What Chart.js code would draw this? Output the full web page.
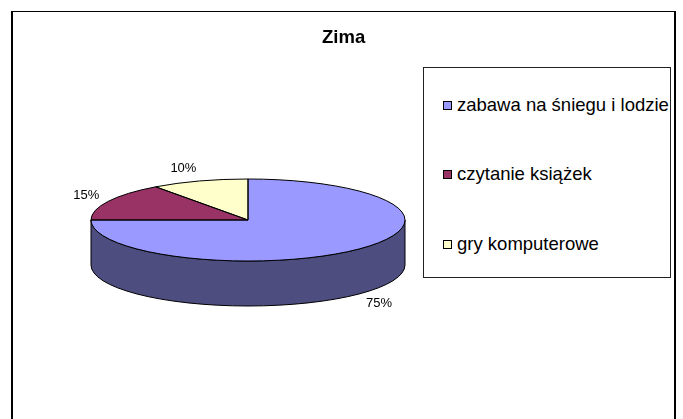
<!DOCTYPE html>
<html>
<head>
<meta charset="utf-8">
<script src="https://cdn.jsdelivr.net/npm/chart.js@4"></script>
<style>
  body { margin: 0; background: #fff; font-family: Arial, "Liberation Sans", sans-serif; }
  #wrap { position: relative; width: 683px; height: 419px; overflow: hidden; }
  #frame { position: absolute; left: 11px; top: 11px; width: 661px; height: 420px;
           border-style: solid; border-color: #000; border-width: 1px 2px; }
  #chart { position: absolute; left: 0; top: 0; }
  #title { position: absolute; left: 322px; top: 26px; font-weight: bold; font-size: 18.5px; line-height: 22px; color: #000; }
  #legend { position: absolute; left: 423px; top: 67px; width: 246px; height: 209px;
            border: 1px solid #222; overflow: hidden; background: #fff; }
  .item { position: absolute; left: 19px; white-space: nowrap; font-size: 18.5px; line-height: 22px; color: #000; }
  .box { display: inline-block; width: 7px; height: 7px; border: 1px solid #000; margin-right: 5px; vertical-align: 1px; }
</style>
</head>
<body>
<div id="wrap">
  <div id="frame"></div>
  <canvas id="chart" width="683" height="419"></canvas>
  <div id="title">Zima</div>
  <div id="legend"></div>
</div>
<script>
// data
const chartTitle = 'Zima';
const categories = ['zabawa na śniegu i lodzie', 'czytanie książek', 'gry komputerowe'];
const shares = [75, 15, 10];
const topColors = ['#9999FF', '#993366', '#FFFFCC'];
const sideColors = ['#4D4D80', '#4D1A33', '#808066'];

document.getElementById('title').textContent = chartTitle;

// legend built from the same arrays
const legend = document.getElementById('legend');
categories.forEach((name, i) => {
    const item = document.createElement('div');
    item.className = 'item';
    item.style.top = (26 + i * 69.3) + 'px';
    const box = document.createElement('span');
    box.className = 'box';
    box.style.background = topColors[i];
    item.appendChild(box);
    item.appendChild(document.createTextNode(categories[i]));
    legend.appendChild(item);
});

// squashes the pie into an ellipse and adds the side wall, outlines and % labels
const pie3d = {
    id: 'pie3d',
    beforeDatasetsDraw(chart, args, opts) {
        const ctx = chart.ctx;
        const arcs = chart.getDatasetMeta(0).data;
        const { x: cx, y: cy, outerRadius: r } = arcs[0];
        const ry = r * opts.tilt;

        // front wall, only the half facing the viewer
        arcs.forEach((arc, i) => {
            for (let k = -1; k <= 1; k++) {
                const lo = Math.max(arc.startAngle, 2 * Math.PI * k);
                const hi = Math.min(arc.endAngle, 2 * Math.PI * k + Math.PI);
                if (hi <= lo) continue;
                ctx.beginPath();
                ctx.ellipse(cx, cy + opts.depth, r, ry, 0, lo, hi);
                ctx.ellipse(cx, cy, r, ry, 0, hi, lo, true);
                ctx.closePath();
                ctx.fillStyle = sideColors[i];
                ctx.fill();
                ctx.lineWidth = 1;
                ctx.strokeStyle = '#000';
                ctx.stroke();
            }
        });

        ctx.save();
        ctx.translate(cx, cy);
        ctx.scale(1, opts.tilt);
        ctx.translate(-cx, -cy);
    },
    afterDatasetsDraw(chart, args, opts) {
        const ctx = chart.ctx;
        ctx.restore();
        const arcs = chart.getDatasetMeta(0).data;
        const { x: cx, y: cy, outerRadius: r } = arcs[0];
        const ry = r * opts.tilt;
        const values = chart.data.datasets[0].data;
        const total = values.reduce((a, b) => a + b, 0);

        arcs.forEach((arc) => {
            ctx.beginPath();
            ctx.moveTo(cx, cy);
            ctx.ellipse(cx, cy, r, ry, 0, arc.startAngle, arc.endAngle);
            ctx.closePath();
            ctx.lineWidth = 1;
            ctx.strokeStyle = '#000';
            ctx.stroke();
        });

        ctx.font = '13px Arial, "Liberation Sans", sans-serif';
        ctx.fillStyle = '#000';
        ctx.textBaseline = 'middle';
        arcs.forEach((arc, i) => {
            const mid = (arc.startAngle + arc.endAngle) / 2;
            const c = Math.cos(mid), s = Math.sin(mid);
            const x = cx + (r + 10) * c;
            const y = cy + (ry + 13) * s + (s > 0 ? opts.depth : 0);
            ctx.textAlign = c < 0 ? 'right' : 'left';
            ctx.fillText(Math.round(values[i] / total * 100) + '%', x, y);
        });
    }
};

const ctx = document.getElementById('chart').getContext('2d');
new Chart(ctx, {
    type: 'pie',
    data: {
        labels: categories,
        datasets: [{
            data: shares,
            backgroundColor: topColors,
            borderWidth: 0
        }]
    },
    options: {
        responsive: false,
        devicePixelRatio: 1,
        animation: false,
        events: [],
        layout: { padding: { left: 91, right: 278, top: 63, bottom: 42 } },
        plugins: {
            legend: { display: false },
            tooltip: { enabled: false },
            title: { display: false },
            pie3d: { tilt: 41 / 157, depth: 45 }
        }
    },
    plugins: [pie3d]
});
</script>
</body>
</html>
